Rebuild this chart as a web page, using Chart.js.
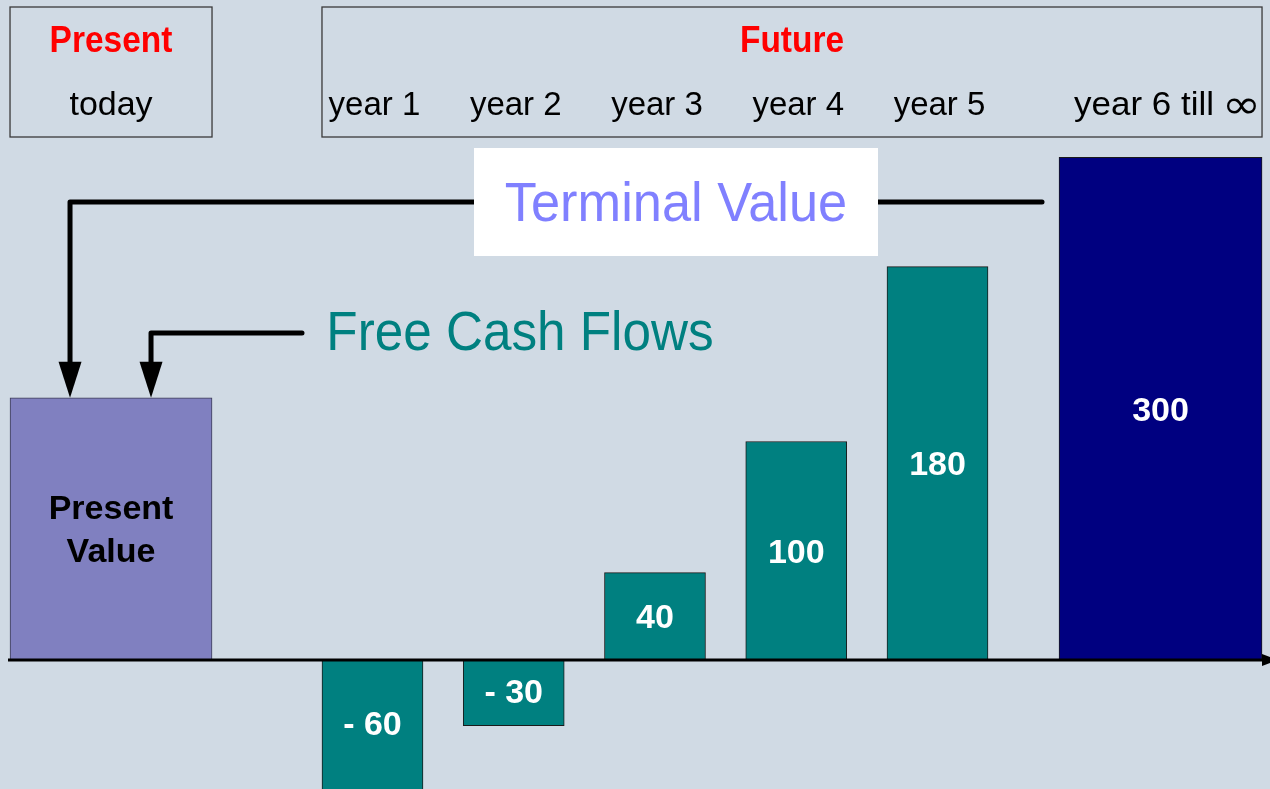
<!DOCTYPE html>
<html><head><meta charset="utf-8">
<script src="https://cdn.jsdelivr.net/npm/chart.js@4/dist/chart.umd.min.js"></script>
<style>
html,body{margin:0;padding:0;background:#d0dae4;overflow:hidden}
#wrap{position:relative;width:1270px;height:789px}
</style></head><body>
<div id="wrap"><canvas id="c"></canvas></div>
<script>
// ---- data ----
const categories = ['today', 'year 1', 'year 2', 'year 3', 'year 4', 'year 5', 'year 6 till ∞'];
const headerLabels = ['Present', 'Future'];
const seriesNames = ['Present Value', 'Free Cash Flows', 'Terminal Value'];
const presentValue = [120];                 // drawn height
const freeCashFlows = [-60, -30, 40, 100, 180];
const terminalValue = [230];                // drawn height (labelled 300, not to scale)
const valueLabels = ['Present\nValue', '- 60', '- 30', '40', '100', '180', '300'];
// timeline positions (in "years") of each bar on the linear x scale
const slotPos = [-0.851, 1, 2, 3, 4, 5, 6.579];

const FONT = '"Liberation Sans", Arial, Helvetica, sans-serif';

function txt(ctx, s, x, y, size, weight, color, sx, align, family) {
  ctx.save();
  ctx.translate(x, y);
  ctx.scale(sx || 1, 1);
  ctx.font = weight + ' ' + size + 'px ' + (family || FONT);
  ctx.fillStyle = color;
  ctx.textAlign = align || 'center';
  ctx.textBaseline = 'alphabetic';
  ctx.fillText(s, 0, 0);
  const w = ctx.measureText(s).width * (sx || 1);
  ctx.restore();
  return w;
}

const decor = {
  id: 'decor',
  beforeDatasetsDraw(chart) {
    const ctx = chart.ctx;
    const xs = chart.scales.x;
    const pvEl = chart.getDatasetMeta(0).data[0];
    const tvEl = chart.getDatasetMeta(2).data[0];
    const pvL = pvEl.x - pvEl.width / 2, pvR = pvEl.x + pvEl.width / 2;
    const fcf = chart.getDatasetMeta(1).data;
    const fL = fcf[0].x - fcf[0].width / 2;
    const tvL = tvEl.x - tvEl.width / 2, tvR = tvEl.x + tvEl.width / 2;

    // header boxes
    ctx.save();
    ctx.strokeStyle = '#3a3a3a';
    ctx.lineWidth = 1.3;
    ctx.strokeRect(pvL, 7, pvR - pvL, 130);
    ctx.strokeRect(fL, 7, tvR - fL, 130);
    ctx.restore();
    txt(ctx, headerLabels[0], pvEl.x, 52, 36, 'bold', '#ff0000', 0.93);
    txt(ctx, categories[0], pvEl.x, 115, 34, 'normal', '#000', 1);
    txt(ctx, headerLabels[1], (fL + tvR) / 2, 52, 36, 'bold', '#ff0000', 0.93);
    for (let i = 1; i < categories.length - 1; i++) {
      const cx = xs.getPixelForValue(slotPos[i]) + 2;
      txt(ctx, categories[i], cx, 115, 33, 'normal', '#000', 1);
    }
    // last category: text + large infinity sign
    const last = categories[categories.length - 1];
    const cut = last.lastIndexOf(' ');
    const startX = tvL + 15;
    const w = txt(ctx, last.slice(0, cut), startX, 115, 33, 'normal', '#000', 1.06, 'left');
    txt(ctx, last.slice(cut + 1), startX + w + 8, 118, 40, 'normal', '#000', 1.17, 'left', '"DejaVu Sans", sans-serif');

    // arrows
    const tipY = pvEl.y;
    const drawArrow = (pts) => {
      ctx.save();
      ctx.strokeStyle = '#000';
      ctx.lineWidth = 5;
      ctx.lineCap = 'round';
      ctx.lineJoin = 'round';
      ctx.beginPath();
      ctx.moveTo(pts[0][0], pts[0][1]);
      for (let k = 1; k < pts.length; k++) ctx.lineTo(pts[k][0], pts[k][1]);
      ctx.stroke();
      const ax = pts[pts.length - 1][0];
      ctx.fillStyle = '#000';
      ctx.beginPath();
      ctx.moveTo(ax - 11.5, tipY - 36);
      ctx.lineTo(ax + 11.5, tipY - 36);
      ctx.lineTo(ax, tipY);
      ctx.closePath();
      ctx.fill();
      ctx.restore();
    };
    drawArrow([[tvL - 17, 202], [pvL + 60, 202], [pvL + 60, tipY - 34]]);
    drawArrow([[302, 333], [pvL + 141, 333], [pvL + 141, tipY - 34]]);

    // Terminal Value label box
    ctx.save();
    ctx.fillStyle = '#ffffff';
    ctx.fillRect(474, 148, 404, 108);
    ctx.restore();
    txt(ctx, seriesNames[2], 676, 221, 56, 'normal', '#8080ff', 0.935);
    txt(ctx, seriesNames[1], 520, 350, 56, 'normal', '#008080', 0.915);
  },
  afterDatasetsDraw(chart) {
    const ctx = chart.ctx;
    const ys = chart.scales.y;
    const y0 = ys.getPixelForValue(0);
    const area = chart.chartArea;
    // axis
    ctx.save();
    ctx.strokeStyle = '#000';
    ctx.lineWidth = 3;
    ctx.beginPath();
    ctx.moveTo(8, y0);
    ctx.lineTo(1264, y0);
    ctx.stroke();
    ctx.fillStyle = '#000';
    ctx.beginPath();
    ctx.moveTo(1262, y0 - 6);
    ctx.lineTo(1278, y0);
    ctx.lineTo(1262, y0 + 6);
    ctx.closePath();
    ctx.fill();
    ctx.restore();

    // value labels
    let idx = 0;
    for (let d = 0; d < 3; d++) {
      chart.getDatasetMeta(d).data.forEach((el) => {
        const top = Math.min(el.y, el.base), bot = Math.min(Math.max(el.y, el.base), area.bottom);
        const cy = (top + bot) / 2;
        const lab = valueLabels[idx++];
        if (d === 0) {
          const lines = lab.split('\n');
          txt(ctx, lines[0], el.x, cy - 22 + 12, 34, 'bold', '#000', 1.0);
          txt(ctx, lines[1], el.x, cy + 21 + 12, 34, 'bold', '#000', 1.0);
        } else {
          const off = el.y > el.base ? 10 : 12;
          txt(ctx, lab, el.x, cy + off, 34, 'bold', '#ffffff', 1.0);
        }
      });
    }
  }
};

new Chart(document.getElementById('c'), {
  type: 'bar',
  data: {
    datasets: [
      {
        label: seriesNames[0],
        data: presentValue.map((v, i) => ({ x: slotPos[i], y: v })),
        backgroundColor: '#8080c0', borderColor: '#3c3c55', borderWidth: 1,
        barThickness: 202, grouped: false, borderSkipped: false
      },
      {
        label: seriesNames[1],
        data: freeCashFlows.map((v, i) => ({ x: slotPos[i + 1], y: v })),
        backgroundColor: '#008080', borderColor: '#1a1a1a', borderWidth: 1,
        barThickness: 101, grouped: false, borderSkipped: false
      },
      {
        label: seriesNames[2],
        data: terminalValue.map((v, i) => ({ x: slotPos[6 + i], y: v })),
        backgroundColor: '#000080', borderColor: '#1a1a1a', borderWidth: 1,
        barThickness: 203, grouped: false, borderSkipped: false
      }
    ]
  },
  options: {
    responsive: true,
    maintainAspectRatio: false,
    animation: false,
    layout: { padding: 0 },
    plugins: { legend: { display: false }, tooltip: { enabled: false } },
    scales: {
      x: { type: 'linear', min: -1.637, max: 7.354, offset: false, display: false },
      y: { type: 'linear', min: -59, max: 302, display: false }
    }
  },
  plugins: [decor]
});
</script>
</body></html>
